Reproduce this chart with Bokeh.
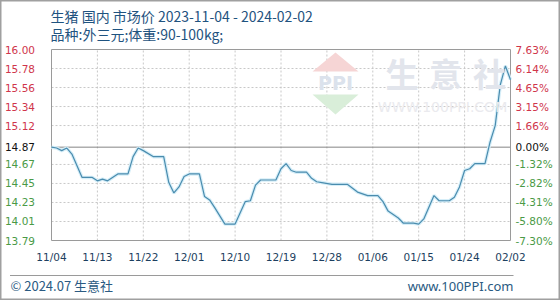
import pandas as pd
from bokeh.plotting import figure
from bokeh.models import (Label, BoxAnnotation, PolyAnnotation, Range1d, ColumnDataSource)
from bokeh.core.properties import value
from bokeh.embed import file_html
from bokeh.resources import INLINE

# ---------------- data ----------------
dates = ["2023-11-04", "2023-11-05", "2023-11-06", "2023-11-07", "2023-11-08",
         "2023-11-10", "2023-11-12", "2023-11-13", "2023-11-14", "2023-11-15",
         "2023-11-17", "2023-11-19", "2023-11-20", "2023-11-21", "2023-11-22",
         "2023-11-24", "2023-11-26", "2023-11-27", "2023-11-28", "2023-11-29",
         "2023-11-30", "2023-12-01", "2023-12-03", "2023-12-04", "2023-12-05",
         "2023-12-06", "2023-12-08", "2023-12-10", "2023-12-12", "2023-12-13",
         "2023-12-14", "2023-12-15", "2023-12-18", "2023-12-19", "2023-12-20",
         "2023-12-21", "2023-12-22", "2023-12-24", "2023-12-25", "2023-12-26",
         "2023-12-27", "2023-12-29", "2024-01-01", "2024-01-03", "2024-01-05",
         "2024-01-07", "2024-01-08", "2024-01-09", "2024-01-10", "2024-01-11",
         "2024-01-12", "2024-01-14", "2024-01-15", "2024-01-16", "2024-01-18",
         "2024-01-19", "2024-01-21", "2024-01-22", "2024-01-23", "2024-01-24",
         "2024-01-25", "2024-01-26", "2024-01-28", "2024-01-29", "2024-01-30",
         "2024-01-31", "2024-02-01", "2024-02-02"]
prices = [14.87, 14.86, 14.83, 14.86, 14.79,
          14.52, 14.52, 14.48, 14.50, 14.48,
          14.56, 14.56, 14.76, 14.86, 14.83,
          14.76, 14.76, 14.46, 14.34, 14.41,
          14.53, 14.56, 14.56, 14.30, 14.26,
          14.17, 13.98, 13.98, 14.24, 14.25,
          14.43, 14.49, 14.49, 14.62, 14.68,
          14.60, 14.58, 14.58, 14.51, 14.47,
          14.46, 14.44, 14.44, 14.35, 14.31,
          14.31, 14.24, 14.13, 14.09, 14.05,
          13.99, 13.99, 13.98, 14.04, 14.31,
          14.25, 14.25, 14.29, 14.41, 14.60,
          14.62, 14.68, 14.68, 14.93, 15.12,
          15.59, 15.81, 15.65]

base_price = 14.87
left_ticks = [16.00, 15.78, 15.56, 15.34, 15.12, 14.87, 14.67, 14.45, 14.23, 14.01, 13.79]
right_labels = ["7.63%", "6.14%", "4.65%", "3.15%", "1.66%", "0.00%",
                "-1.32%", "-2.82%", "-4.31%", "-5.80%", "-7.30%"]
x_tick_dates = ["2023-11-04", "2023-11-13", "2023-11-22", "2023-12-01", "2023-12-10",
                "2023-12-19", "2023-12-28", "2024-01-06", "2024-01-15", "2024-01-24",
                "2024-02-02"]
x_tick_labels = ["11/04", "11/13", "11/22", "12/01", "12/10", "12/19",
                 "12/28", "01/06", "01/15", "01/24", "02/02"]

title_text = "生猪 国内 市场价 2023-11-04 - 2024-02-02"
subtitle_text = "品种:外三元;体重:90-100kg;"
footer_left = "© 2024.07 生意社"
footer_right = "www.100PPI.com"

# ---------------- layout (pixels) ----------------
W, H = 560, 300
PL, PR, PT, PB = 51, 510, 49, 240   # plot-area edges in canvas pixels


def ms(d):
    return pd.Timestamp(d).timestamp() * 1000.0


x_ms = [ms(d) for d in x_tick_dates]
x0, x1 = x_ms[0], x_ms[-1]
y0, y1 = min(left_ticks), max(left_ticks)
kx = (x1 - x0) / (PR - PL)
ky = (y1 - y0) / (PB - PT)

p = figure(width=W, height=H, output_backend="svg", toolbar_location=None, title=None,
           x_axis_location=None, y_axis_location=None,
           x_range=Range1d(x0 - PL * kx, x1 + (W - PR) * kx),
           y_range=Range1d(y0 - (H - PB) * ky, y1 + PT * ky),
           min_border=0)
p.grid.visible = False
p.background_fill_color = "white"
p.border_fill_color = "white"
p.outline_line_color = "#a0a0a0"
p.outline_line_width = 2

grid_kw = dict(line_color="#c8c8c8", line_dash="2 2", line_width=1)

# watermark
p.add_layout(PolyAnnotation(xs=[335, 312, 358], ys=[H - 52, H - 71, H - 71],
                            xs_units="screen", ys_units="screen",
                            fill_color="#f6d5d5", fill_alpha=1.0, line_color=None))
p.add_layout(PolyAnnotation(xs=[312, 358, 335], ys=[H - 94, H - 94, H - 114],
                            xs_units="screen", ys_units="screen",
                            fill_color="#d9eed9", fill_alpha=1.0, line_color=None))
p.add_layout(Label(x=335, y=H - 82, x_units="screen", y_units="screen", text="PPI",
                   text_align="center", text_baseline="middle",
                   text_font="DejaVu Sans", text_font_size="19px", text_font_style="bold",
                   text_color="#dbe2ec"))
for cx, ch in [(401.5, "生"), (445, "意"), (489, "社")]:
    p.add_layout(Label(x=cx, y=H - 72, x_units="screen", y_units="screen", text=ch,
                       text_align="center", text_baseline="middle",
                       text_font="Noto Sans CJK SC", text_font_size="33px",
                       text_font_style="bold", text_color="#e2e5ec"))
p.add_layout(Label(x=442, y=H - 106, x_units="screen", y_units="screen",
                   text="WWW.100PPI.COM", text_align="center", text_baseline="middle",
                   text_font="DejaVu Sans", text_font_size="14px", text_color="#eaeaee"))

# grid
inner_x = x_ms[1:-1]
p.segment(x0=inner_x, y0=[y0] * len(inner_x), x1=inner_x, y1=[y1] * len(inner_x), **grid_kw)
inner_y = [v for v in left_ticks if v not in (y0, y1, base_price)]
p.segment(x0=[x0] * len(inner_y), y0=inner_y, x1=[x1] * len(inner_y), y1=inner_y, **grid_kw)

# baseline
p.segment(x0=[x0], y0=[base_price], x1=[x1], y1=[base_price],
          line_color="#858585", line_width=1)

# plot-area frame
p.quad(left=[x0], right=[x1], bottom=[y0], top=[y1], fill_color=None,
       line_color="#9a9a9a", line_width=1)

# price line with soft halo
src = ColumnDataSource(dict(x=[ms(d) for d in dates], y=prices))
p.line("x", "y", source=src, line_color="#d6eef8", line_width=3.5)
p.line("x", "y", source=src, line_color="#4a8cae", line_width=1.2)

# y tick labels
red, green, black = "#d0354b", "#4a9a46", "#111111"
colors = [red if v > base_price else (black if v == base_price else green) for v in left_ticks]
lab_src = ColumnDataSource(dict(
    xl=[x0] * len(left_ticks), xr=[x1] * len(left_ticks), y=left_ticks,
    lt=[f"{v:.2f}" for v in left_ticks], rt=right_labels, c=colors))
p.text(x="xl", y="y", text="lt", source=lab_src, x_offset=-16.5,
       text_align="right", text_baseline="middle", text_color="c",
       text_font=value("DejaVu Sans"), text_font_size=value("10.5px"))
p.text(x="xr", y="y", text="rt", source=lab_src, x_offset=5,
       text_align="left", text_baseline="middle", text_color="c",
       text_font=value("DejaVu Sans"), text_font_size=value("10.5px"))

# x tick labels
p.text(x=x_ms, y=[y0] * len(x_ms), text=x_tick_labels, y_offset=10,
       text_align="center", text_baseline="top", text_color="#1d3f60",
       text_font=value("DejaVu Sans"), text_font_size=value("10.5px"))

# titles
p.add_layout(Label(x=50, y=H - 15, x_units="screen", y_units="screen", text=title_text,
                   text_align="left", text_baseline="middle",
                   text_font="Noto Sans CJK SC", text_font_size="14px", text_color="#1f5380"))
p.add_layout(Label(x=50, y=H - 33, x_units="screen", y_units="screen", text=subtitle_text,
                   text_align="left", text_baseline="middle",
                   text_font="Noto Sans CJK SC", text_font_size="14px", text_color="#1f5380"))

# footer
p.add_layout(BoxAnnotation(left=9.5, right=513, top=H - 274.5, bottom=H - 275.5,
                           left_units="screen", right_units="screen",
                           top_units="screen", bottom_units="screen",
                           fill_color="#9a9a9a", fill_alpha=1.0, line_color=None))
p.add_layout(Label(x=10, y=H - 285, x_units="screen", y_units="screen", text=footer_left,
                   text_align="left", text_baseline="middle",
                   text_font="Noto Sans CJK SC", text_font_size="13px", text_color="#2a5a82"))
p.add_layout(Label(x=513, y=H - 285, x_units="screen", y_units="screen", text=footer_right,
                   text_align="right", text_baseline="middle",
                   text_font="Noto Sans", text_font_size="13px", text_color="#2a5a82"))

open("out.html", "w").write(file_html(p, INLINE))
